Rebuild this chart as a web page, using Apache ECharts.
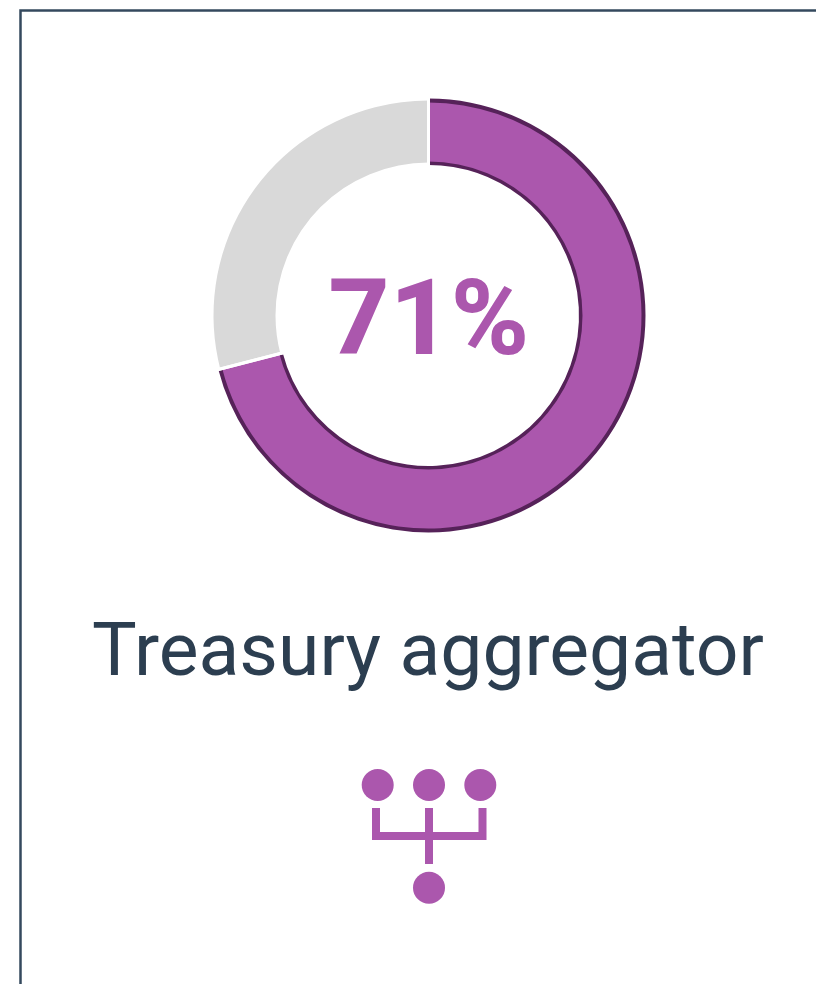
<!DOCTYPE html>
<html>
<head>
<meta charset="utf-8">
<script src="https://cdn.jsdelivr.net/npm/echarts@6/dist/echarts.min.js"></script>
<style>
html, body { margin: 0; padding: 0; background: #fff; }
#main { width: 816px; height: 984px; }
</style>
</head>
<body>
<div id="main"></div>
<script>
let chart = echarts.init(document.getElementById('main'));

const categories = ['Treasury aggregator', 'Other'];
const shareValues = [71, 29];
const centerLabel = '71%';
const chartTitle = 'Treasury aggregator';

const purple = '#ab57ad';
const darkPurple = '#562259';
const grey = '#d9d9d9';
const navy = '#2c3e50';
const center = [428.5, 315.5];

let pieData = categories.map((name, i) => ({ name: name, value: shareValues[i] }));

// 深色描边只在紫色弧的内外两侧，两端没有
function edgeRing(inner, outer) {
	return {
		type: 'pie',
		silent: true,
		center: center,
		radius: [inner, outer],
		startAngle: 90,
		clockwise: true,
		label: { show: false },
		labelLine: { show: false },
		animation: false,
		z: 3,
		data: pieData.map((d, i) => ({
			name: d.name,
			value: d.value,
			itemStyle: { color: i === 0 ? darkPurple : 'rgba(0,0,0,0)', borderWidth: 0 }
		}))
	};
}

let option = {
	animation: false,
	title: [{
		text: centerLabel,
		left: 424,
		top: 264,
		textAlign: 'center',
		textStyle: { fontFamily: 'Roboto', fontSize: 106, fontWeight: 800, color: purple, lineHeight: 116 }
	}, {
		text: chartTitle,
		left: 423,
		top: 607,
		textAlign: 'center',
		textStyle: { fontFamily: 'Roboto', fontSize: 75, fontWeight: 'normal', color: navy, lineHeight: 88 }
	}],
	series: [{
		type: 'pie',
		silent: true,
		center: center,
		radius: [153, 215],
		startAngle: 90,
		clockwise: true,
		label: { show: false },
		labelLine: { show: false },
		z: 2,
		data: pieData.map((d, i) => ({
			name: d.name,
			value: d.value,
			itemStyle: { color: i === 0 ? purple : grey, borderWidth: 0 }
		}))
	}, edgeRing(213, 217), edgeRing(150.5, 154), {
		// 两段之间的白色分隔线
		type: 'pie',
		silent: true,
		center: center,
		radius: [147, 221],
		startAngle: 90,
		clockwise: true,
		label: { show: false },
		labelLine: { show: false },
		z: 4,
		data: pieData.map(d => ({
			name: d.name,
			value: d.value,
			itemStyle: { color: 'rgba(0,0,0,0)', borderColor: '#fff', borderWidth: 3 }
		}))
	}],
	graphic: [
		// 外框
		{ type: 'polyline', shape: { points: [[20.5, 984], [20.5, 10.5], [816, 10.5]] }, style: { fill: null, stroke: '#34495e', lineWidth: 2.5 } },
		// 图标
		{ type: 'circle', shape: { cx: 377.7, cy: 785, r: 16 }, style: { fill: purple } },
		{ type: 'circle', shape: { cx: 429, cy: 785, r: 16 }, style: { fill: purple } },
		{ type: 'circle', shape: { cx: 480.3, cy: 785, r: 16 }, style: { fill: purple } },
		{ type: 'circle', shape: { cx: 429, cy: 887.7, r: 16 }, style: { fill: purple } },
		{ type: 'polyline', shape: { points: [[376, 808], [376, 836], [482.5, 836], [482.5, 808]] }, style: { fill: null, stroke: purple, lineWidth: 8 } },
		{ type: 'line', shape: { x1: 429, y1: 808, x2: 429, y2: 864 }, style: { stroke: purple, lineWidth: 8 } }
	]
};

chart.setOption(option);
</script>
</body>
</html>
